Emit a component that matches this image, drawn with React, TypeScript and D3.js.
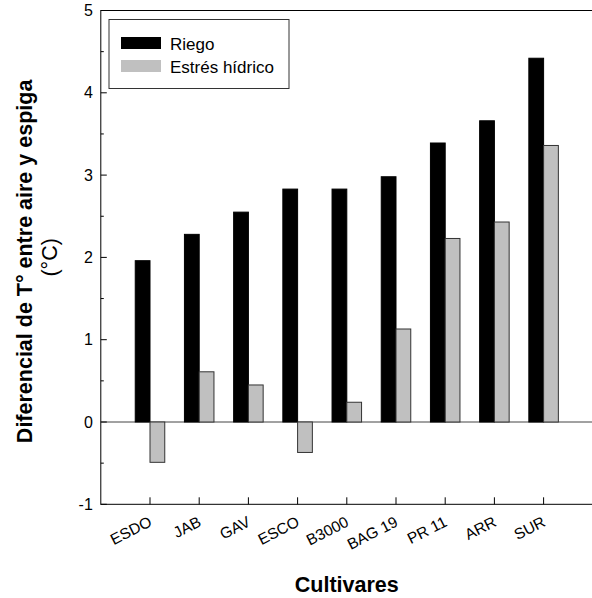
import React, { useRef, useLayoutEffect } from "react";
import * as d3 from "d3";

const cultivares = ["ESDO", "JAB", "GAV", "ESCO", "B3000", "BAG 19", "PR 11", "ARR", "SUR"];
const riego = [1.96, 2.28, 2.55, 2.83, 2.83, 2.98, 3.39, 3.66, 4.42];
const estres = [-0.49, 0.61, 0.45, -0.37, 0.24, 1.13, 2.23, 2.43, 3.36];
const yTicks = [-1, 0, 1, 2, 3, 4, 5];
const seriesNames = ["Riego", "Estrés hídrico"];
const seriesColors = ["#000000", "#c0c0c0"];

const W = 592;
const H = 598;
const FONT = "'Liberation Sans', Arial, sans-serif";

export default function App() {
  const svgRef = useRef<SVGSVGElement | null>(null);

  useLayoutEffect(() => {
    const svg = svgRef.current;
    if (!svg) return;
    const M = { l: 100.8, r: 592.8, t: 10.5, b: 504.3 };

    // categories sit at 1..9 on a 0..10 axis
    const x = d3.scaleLinear().domain([0, 10]).range([M.l, M.r]);
    const y = d3.scaleLinear().domain([-1, 5]).range([M.b, M.t]);
    const bw = x(0.3) - x(0);

    const sel = d3.select(svg);
    sel.selectAll("*").remove();

    // frame
    sel
      .append("rect")
      .attr("x", M.l)
      .attr("y", M.t)
      .attr("width", M.r - M.l)
      .attr("height", M.b - M.t)
      .attr("fill", "none")
      .attr("stroke", "#000")
      .attr("stroke-width", 1);

    // zero line
    sel
      .append("line")
      .attr("x1", M.l)
      .attr("x2", M.r)
      .attr("y1", y(0))
      .attr("y2", y(0))
      .attr("stroke", "#444")
      .attr("stroke-width", 1);

    const series = [riego, estres];
    series.forEach((vals, si) => {
      sel
        .append("g")
        .selectAll("rect")
        .data(vals)
        .enter()
        .append("rect")
        .attr("x", (_, i) => x(i + 1) - bw + si * bw)
        .attr("y", (d) => y(Math.max(0, d)))
        .attr("width", bw)
        .attr("height", (d) => Math.abs(y(d) - y(0)))
        .attr("fill", seriesColors[si])
        .attr("stroke", si === 0 ? "#000" : "#333")
        .attr("stroke-width", 1);
    });

    // y axis ticks (inward)
    const minor = d3.range(-0.5, 5, 1);
    sel
      .append("g")
      .selectAll("line")
      .data(yTicks)
      .enter()
      .append("line")
      .attr("x1", M.l)
      .attr("x2", M.l + 6)
      .attr("y1", (d) => y(d))
      .attr("y2", (d) => y(d))
      .attr("stroke", "#000");
    sel
      .append("g")
      .selectAll("line")
      .data(minor)
      .enter()
      .append("line")
      .attr("x1", M.l)
      .attr("x2", M.l + 3)
      .attr("y1", (d) => y(d))
      .attr("y2", (d) => y(d))
      .attr("stroke", "#000");
    sel
      .append("g")
      .selectAll("text")
      .data(yTicks)
      .enter()
      .append("text")
      .attr("x", M.l - 8)
      .attr("y", (d) => y(d))
      .attr("dy", "0.35em")
      .attr("text-anchor", "end")
      .attr("font-family", FONT)
      .attr("font-size", 16)
      .text((d) => String(d));

    // x axis ticks (inward) and rotated labels
    sel
      .append("g")
      .selectAll("line")
      .data(cultivares)
      .enter()
      .append("line")
      .attr("x1", (_, i) => x(i + 1))
      .attr("x2", (_, i) => x(i + 1))
      .attr("y1", M.b)
      .attr("y2", M.b - 7)
      .attr("stroke", "#000");
    sel
      .append("g")
      .selectAll("text")
      .data(cultivares)
      .enter()
      .append("text")
      .attr("text-anchor", "end")
      .attr("font-family", FONT)
      .attr("font-size", 15.5)
      .attr("transform", (_, i) => `translate(${x(i + 1) + 3},${M.b + 21}) rotate(-27)`)
      .text((d) => d);

    // axis titles
    sel
      .append("text")
      .attr("x", (M.l + M.r) / 2)
      .attr("y", 592)
      .attr("text-anchor", "middle")
      .attr("font-family", FONT)
      .attr("font-size", 21.5)
      .attr("font-weight", "bold")
      .text("Cultivares");

    const cy = (M.t + M.b) / 2 + 4;
    sel
      .append("text")
      .attr("transform", `translate(32,${cy}) rotate(-90)`)
      .attr("text-anchor", "middle")
      .attr("font-family", FONT)
      .attr("font-size", 21.5)
      .attr("font-weight", "bold")
      .text("Diferencial de T° entre aire y espiga");
    sel
      .append("text")
      .attr("transform", `translate(57,${cy - 4}) rotate(-90)`)
      .attr("text-anchor", "middle")
      .attr("font-family", FONT)
      .attr("font-size", 21.5)
      .text("(°C)");

    // legend
    const lg = sel.append("g");
    lg.append("rect")
      .attr("x", 109)
      .attr("y", 19.5)
      .attr("width", 180)
      .attr("height", 69)
      .attr("fill", "#fff")
      .attr("stroke", "#333")
      .attr("stroke-width", 1);
    seriesNames.forEach((name, i) => {
      const yy = 37 + i * 23;
      lg.append("rect")
        .attr("x", 121)
        .attr("y", yy)
        .attr("width", 40)
        .attr("height", 12)
        .attr("fill", seriesColors[i]);
      lg.append("text")
        .attr("x", 170)
        .attr("y", yy + 12.5)
        .attr("font-family", FONT)
        .attr("font-size", 17)
        .text(name);
    });
  }, []);

  return (
    <svg
      ref={svgRef}
      width={W}
      height={H}
      style={{ position: "absolute", left: 0, top: 0, background: "#fff" }}
    />
  );
}
